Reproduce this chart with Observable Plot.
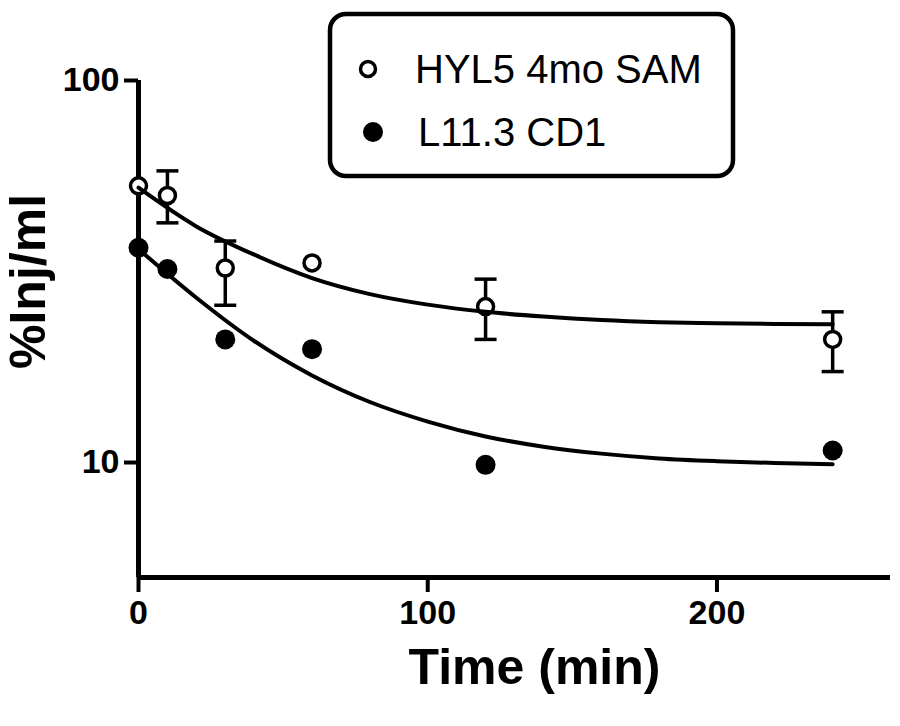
<!DOCTYPE html>
<html><head><meta charset="utf-8">
<script src="https://cdn.jsdelivr.net/npm/d3@7"></script>
<script src="https://cdn.jsdelivr.net/npm/@observablehq/plot@0.6"></script>
<style>body{margin:0;background:#fff}</style>
</head><body><div id="chart"></div>
<script>
// Data
const times   = [0, 10, 30, 60, 120, 240];
const hylMean = [53.0, 50.0, 32.3, 33.3, 25.6, 21.0];
const hylLow  = [null, 42.4, 25.8, null, 21.0, 17.3];
const hylHigh = [null, 58.0, 38.0, null, 30.2, 24.8];
const l11Mean = [36.5, 32.1, 21.0, 19.8, 9.86, 10.75];
const fitTimes = [0, 20, 40, 60, 80, 100, 120, 140, 160, 180, 200, 220, 240];
const hylFit = [52.4, 41.5, 35.0, 30.4, 27.6, 25.9, 24.8, 24.1, 23.6, 23.3, 23.15, 23.05, 23.0];
const l11Fit = [36.2, 27.0, 20.8, 16.9, 14.4, 12.8, 11.7, 11.0, 10.55, 10.25, 10.08, 9.97, 9.9];
const xTicks = [0, 100, 200];
const yTicks = [10, 100];
const seriesNames = ["HYL5 4mo SAM", "L11.3 CD1"];
const xTitle = "Time (min)";
const yTitle = "%Inj/ml";

const hyl = times.map((t, i) => ({t, v: hylMean[i], lo: hylLow[i], hi: hylHigh[i]}));
const l11 = times.map((t, i) => ({t, v: l11Mean[i]}));
const errs = hyl.filter(d => d.lo != null);
const hylCurve = fitTimes.map((t, i) => ({t, v: hylFit[i]}));
const l11Curve = fitTimes.map((t, i) => ({t, v: l11Fit[i]}));

const capSymbol = {draw(ctx, size) { const r = Math.sqrt(size / Math.PI); ctx.moveTo(-r, 0); ctx.lineTo(r, 0); }};

const chart = Plot.plot({
  width: 900, height: 726,
  marginLeft: 138, marginRight: 10, marginTop: 80, marginBottom: 149,
  style: {fontFamily: "'Liberation Sans', Arial, sans-serif", fontWeight: "bold", color: "black", background: "white", overflow: "visible"},
  x: {domain: [0, 260], label: null},
  y: {type: "log", domain: [5, 100], label: null},
  marks: [
    Plot.axisX({ticks: xTicks, tickSize: 15, tickPadding: 7, strokeWidth: 4, fontSize: 34, label: null, tickFormat: d => String(d)}),
    Plot.axisY({ticks: yTicks, tickSize: 14, tickPadding: 5, strokeWidth: 4, fontSize: 34, label: null, tickFormat: d => String(d)}),
    Plot.ruleX([0], {y1: 5, y2: 100, strokeWidth: 5}),
    Plot.ruleY([5], {x1: 0, x2: 260, strokeWidth: 5}),
    Plot.ruleX(errs, {x: "t", y1: "lo", y2: "hi", strokeWidth: 3.5}),
    Plot.dot(errs, {x: "t", y: "lo", symbol: capSymbol, r: 11, stroke: "black", strokeWidth: 3.5}),
    Plot.dot(errs, {x: "t", y: "hi", symbol: capSymbol, r: 11, stroke: "black", strokeWidth: 3.5}),
    Plot.dot(hyl, {x: "t", y: "v", r: 8, fill: "white", stroke: "black", strokeWidth: 3.5}),
    Plot.dot(l11, {x: "t", y: "v", r: 10, fill: "black", stroke: "none"}),
    Plot.line(hylCurve, {x: "t", y: "v", curve: "monotone-x", strokeWidth: 4}),
    Plot.line(l11Curve, {x: "t", y: "v", curve: "monotone-x", strokeWidth: 4}),
    Plot.text([xTitle], {frameAnchor: "bottom", dx: 20, dy: 106, fontSize: 50, fontWeight: "bold"}),
    Plot.text([yTitle], {frameAnchor: "left", rotate: -90, dx: -110, dy: 40, fontSize: 50, fontWeight: "bold"})
  ]
});
document.getElementById("chart").appendChild(chart);

// Legend box (inside the SVG)
const svg = d3.select(chart);
const g = svg.append("g").attr("font-family", "'Liberation Sans', Arial, sans-serif").attr("font-weight", "normal").attr("text-anchor", "start");
g.append("rect").attr("x", 330).attr("y", 14).attr("width", 403).attr("height", 162).attr("rx", 16)
  .attr("fill", "white").attr("stroke", "black").attr("stroke-width", 4.5);
g.append("circle").attr("cx", 368).attr("cy", 69).attr("r", 7.5).attr("fill", "white").attr("stroke", "black").attr("stroke-width", 3.5);
g.append("circle").attr("cx", 373).attr("cy", 132).attr("r", 10).attr("fill", "black");
g.append("text").attr("x", 415).attr("y", 83).attr("font-size", 40).attr("fill", "black").text(seriesNames[0]);
g.append("text").attr("x", 418).attr("y", 146).attr("font-size", 40).attr("fill", "black").text(seriesNames[1]);
</script>
</body></html>
